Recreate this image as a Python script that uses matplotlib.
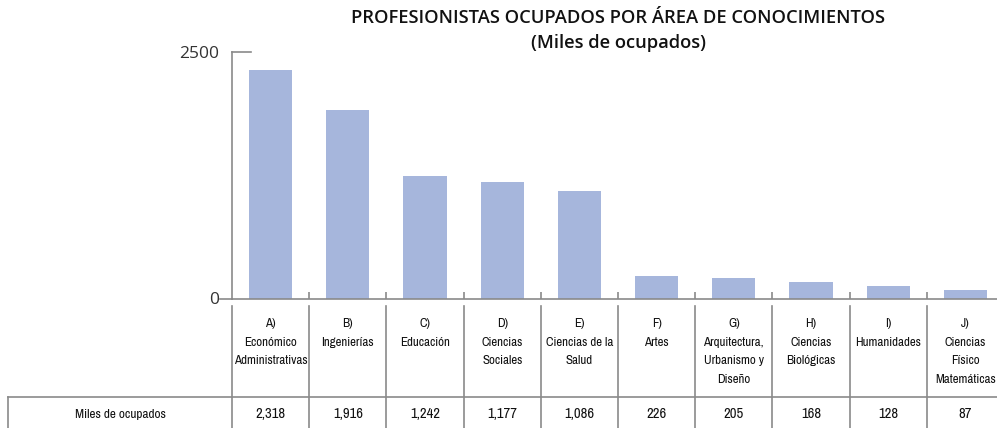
import matplotlib
matplotlib.use("Agg")
import matplotlib.pyplot as plt
from matplotlib.lines import Line2D
import matplotlib.transforms as mtransforms

categories = ["A)\nEconómico\nAdministrativas", "B)\nIngenierías", "C)\nEducación",
              "D)\nCiencias\nSociales", "E)\nCiencias de la\nSalud", "F)\nArtes",
              "G)\nArquitectura,\nUrbanismo y\nDiseño", "H)\nCiencias\nBiológicas",
              "I)\nHumanidades", "J)\nCiencias\nFísico\nMatemáticas"]
values = [2318, 1916, 1242, 1177, 1086, 226, 205, 168, 128, 87]
value_labels = ["2,318", "1,916", "1,242", "1,177", "1,086", "226", "205", "168", "128", "87"]
row_label = "Miles de ocupados"
title = "PROFESIONISTAS OCUPADOS POR ÁREA DE CONOCIMIENTOS\n(Miles de ocupados)"
y_ticks = [0, 2500]

NARROW = ["Archivo Narrow", "DejaVu Sans"]
SANS = ["Open Sans", "DejaVu Sans"]
W, H = 997, 428
fig = plt.figure(figsize=(W / 100, H / 100), dpi=100)

def fx(px):
    return px / W

def fy(py):
    return 1 - py / H

ax = fig.add_axes([fx(232), fy(298.5), fx(1004) - fx(232), fy(52) - fy(298.5)])
x = list(range(len(values)))
ax.bar(x, values, width=0.56, color="#A6B6DC", zorder=2)
ax.set_xlim(-0.5, len(values) - 0.5)
ax.set_ylim(0, 2500)
for s in ["top", "right"]:
    ax.spines[s].set_visible(False)
grey = "#8a8a8a"
ax.spines["left"].set_color(grey)
ax.spines["bottom"].set_color(grey)
ax.spines["left"].set_linewidth(1.2)
ax.spines["bottom"].set_linewidth(1.2)
ax.set_xticks([i + 0.5 for i in range(len(values) - 1)])
ax.set_xticklabels([])
ax.tick_params(axis="x", direction="in", length=5, color=grey, width=1.2)
ax.set_yticks(y_ticks)
ax.set_yticklabels([str(v) for v in y_ticks], fontsize=12.5, color="#333333", family=SANS)
ax.tick_params(axis="y", length=0, pad=9)

# axis cap lines
ax.add_line(Line2D([0, 19 / 772], [1, 1], transform=ax.transAxes, color=grey, lw=1.2, clip_on=False))
ax.add_line(Line2D([-12 / 772, 0], [0, 0], transform=ax.transAxes, color=grey, lw=1.2, clip_on=False))

fig.text(fx(618), fy(30.5), title, ha="center", va="center", fontsize=13.2, family=SANS,
         color="#111111", linespacing=1.45, weight="semibold")

# table
trans = mtransforms.blended_transform_factory(ax.transData, fig.transFigure)
for i in range(len(values)):
    xb = i - 0.5
    fig.add_artist(Line2D([xb, xb], [fy(306), 0], transform=trans, color=grey, lw=1.2))
fig.add_artist(Line2D([fx(8), 1], [fy(397), fy(397)], transform=fig.transFigure, color=grey, lw=1.2))
fig.add_artist(Line2D([fx(8), fx(8)], [fy(397), 0], transform=fig.transFigure, color=grey, lw=1.2))

for i, (c, v) in enumerate(zip(categories, value_labels)):
    fig.text(i, fy(318), c, transform=trans, ha="center", va="top", fontsize=9.3,
             family=NARROW, linespacing=1.85, color="#111111")
    fig.text(i, fy(414), v, transform=trans, ha="center", va="center", fontsize=10.5,
             family=NARROW, color="#111111")
fig.text(fx(120), fy(414), row_label, ha="center", va="center", fontsize=9.5, family=NARROW,
         color="#111111")

fig.savefig("out.png", dpi=100)
